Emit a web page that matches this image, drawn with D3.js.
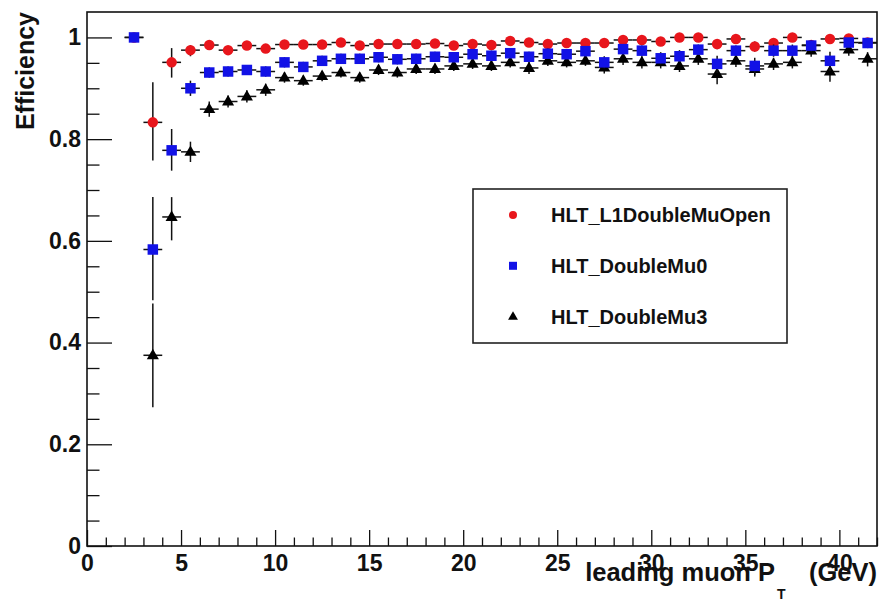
<!DOCTYPE html>
<html><head><meta charset="utf-8">
<script src="https://cdn.jsdelivr.net/npm/d3@7"></script>
<style>
body{margin:0;background:#fff}
svg{display:block}
text{font-family:"Liberation Sans",Arial,Helvetica,sans-serif;font-weight:bold;fill:#111}
</style>
</head><body>
<svg id="c" width="879" height="604"></svg>
<script>
// ---- data ----
const ptBins = [2.5,3.5,4.5,5.5,6.5,7.5,8.5,9.5,10.5,11.5,12.5,13.5,14.5,15.5,16.5,17.5,18.5,19.5,20.5,21.5,
                22.5,23.5,24.5,25.5,26.5,27.5,28.5,29.5,30.5,31.5,32.5,33.5,34.5,35.5,36.5,37.5,38.5,39.5,40.5,41.5];
const binHalfWidth = 0.5;
const seriesNames = ["HLT_L1DoubleMuOpen","HLT_DoubleMu0","HLT_DoubleMu3"];
const effL1Open = [1.0,0.833,0.951,0.975,0.985,0.975,0.984,0.978,0.986,0.986,0.986,0.990,0.984,0.987,0.987,0.987,0.988,0.984,0.987,0.985,
                   0.993,0.990,0.987,0.989,0.989,0.989,0.995,0.995,0.992,1.0,1.0,0.987,0.997,0.982,0.989,1.0,0.985,0.997,0.998,0.990];
const errLoL1Open = [0.005,0.075,0.030,0.012,0.008,0.008,0.008,0.008,0.008,0.008,0.008,0.008,0.008,0.008,0.008,0.008,0.008,0.008,0.008,0.008,
                     0.008,0.008,0.008,0.008,0.008,0.008,0.008,0.008,0.008,0.008,0.008,0.010,0.008,0.010,0.008,0.008,0.010,0.008,0.008,0.010];
const errHiL1Open = [0.0,0.079,0.028,0.010,0.008,0.008,0.008,0.008,0.008,0.008,0.008,0.006,0.008,0.008,0.008,0.008,0.008,0.008,0.008,0.008,
                     0.006,0.006,0.008,0.008,0.008,0.008,0.005,0.005,0.006,0.0,0.0,0.008,0.003,0.010,0.008,0.0,0.010,0.003,0.002,0.008];
const effMu0 = [1.0,0.583,0.778,0.900,0.931,0.933,0.936,0.933,0.951,0.942,0.954,0.958,0.958,0.961,0.957,0.958,0.962,0.961,0.967,0.964,
                0.969,0.962,0.968,0.967,0.973,0.951,0.977,0.974,0.959,0.963,0.976,0.948,0.974,0.944,0.974,0.974,0.984,0.954,0.990,0.989];
const errLoMu0 = [0.005,0.100,0.040,0.015,0.010,0.010,0.010,0.010,0.010,0.010,0.010,0.010,0.010,0.010,0.010,0.010,0.010,0.010,0.010,0.010,
                  0.010,0.010,0.010,0.010,0.010,0.012,0.010,0.010,0.012,0.012,0.010,0.018,0.010,0.018,0.012,0.012,0.012,0.020,0.010,0.010];
const errHiMu0 = [0.0,0.103,0.042,0.015,0.010,0.010,0.010,0.010,0.010,0.010,0.010,0.010,0.010,0.010,0.010,0.010,0.010,0.010,0.010,0.010,
                  0.010,0.010,0.010,0.010,0.010,0.012,0.010,0.010,0.012,0.012,0.010,0.016,0.010,0.016,0.012,0.012,0.010,0.018,0.008,0.008];
const effMu3 = [null,0.375,0.647,0.775,0.859,0.874,0.884,0.897,0.921,0.915,0.924,0.931,0.921,0.936,0.931,0.938,0.938,0.944,0.948,0.944,
                0.951,0.940,0.954,0.951,0.954,0.941,0.958,0.951,0.951,0.944,0.958,0.928,0.954,0.938,0.948,0.951,0.974,0.933,0.976,0.958];
const errLoMu3 = [0,0.102,0.046,0.020,0.015,0.012,0.012,0.012,0.010,0.010,0.010,0.010,0.010,0.010,0.010,0.010,0.010,0.010,0.010,0.010,
                  0.010,0.012,0.010,0.010,0.010,0.012,0.012,0.012,0.012,0.012,0.012,0.020,0.012,0.015,0.012,0.012,0.012,0.020,0.012,0.015];
const errHiMu3 = [0,0.102,0.039,0.020,0.015,0.012,0.012,0.012,0.010,0.010,0.010,0.010,0.010,0.010,0.010,0.010,0.010,0.010,0.010,0.010,
                  0.010,0.012,0.010,0.010,0.010,0.012,0.012,0.012,0.012,0.012,0.012,0.018,0.012,0.015,0.012,0.012,0.012,0.018,0.010,0.013];
const xMajorTicks = [0,5,10,15,20,25,30,35,40];
const yMajorTicks = [0,0.2,0.4,0.6,0.8,1.0];
const xTitle = "leading muon P";
const xTitleSub = "T";
const xTitleUnit = "(GeV)";
const yTitle = "Efficiency";

// ---- layout ----
const svg = d3.select("#c");
const L = 87, R = 877, T = 12, B = 546;
const x = d3.scaleLinear().domain([0, 42]).range([L, R]);
const y = d3.scaleLinear().domain([0, 1.05]).range([B, T]);

svg.append("rect").attr("width",879).attr("height",604).attr("fill","#fff");

// axes
const xMinor = d3.range(0, 43, 1).filter(v => v % 5 !== 0);
const yMinor = d3.range(0, 21, 1).map(i => +(i*0.05).toFixed(2)).filter(v => Math.round(v*100) % 20 !== 0);

function styleAxis(g){
  g.select(".domain").remove();
  g.selectAll(".tick line").attr("stroke","#111").attr("stroke-width",1.3);
  g.selectAll(".tick text").attr("fill","#111").style("font-size","23px")
   .style("font-family",'"Liberation Sans",Arial,sans-serif').style("font-weight","bold");
}
svg.append("g").attr("transform",`translate(0,${B})`)
  .call(d3.axisBottom(x).tickValues(xMajorTicks).tickSize(-16).tickPadding(9).tickFormat(d3.format("d")))
  .call(styleAxis);
svg.append("g").attr("transform",`translate(0,${B})`)
  .call(d3.axisBottom(x).tickValues(xMinor).tickSize(-8.5).tickFormat(""))
  .call(styleAxis);
svg.append("g").attr("transform",`translate(${L},0)`)
  .call(d3.axisLeft(y).tickValues(yMajorTicks).tickSize(-25).tickPadding(6).tickFormat(d3.format("~g")))
  .call(styleAxis);
svg.append("g").attr("transform",`translate(${L},0)`)
  .call(d3.axisLeft(y).tickValues(yMinor).tickSize(-12.5).tickFormat(""))
  .call(styleAxis);

// frame
svg.append("rect").attr("x",L).attr("y",T).attr("width",R-L).attr("height",B-T)
  .attr("fill","none").attr("stroke","#111").attr("stroke-width",1.6);

// titles
svg.append("text").attr("transform",`translate(34,${T}) rotate(-90)`)
  .attr("text-anchor","end").style("font-size","25px").text(yTitle);
svg.append("text").attr("x",R).attr("y",581).attr("text-anchor","end").style("font-size","25.5px").text(xTitleUnit);
svg.append("text").attr("x",775).attr("y",581).attr("text-anchor","end").style("font-size","25.5px").text(xTitle);
svg.append("text").attr("x",777).attr("y",599).attr("text-anchor","start").style("font-size","14px").text(xTitleSub);

// series
const series = [
  {name: seriesNames[0], eff: effL1Open, lo: errLoL1Open, hi: errHiL1Open, color: "#e8161c", shape: "circle"},
  {name: seriesNames[2], eff: effMu3, lo: errLoMu3, hi: errHiMu3, color: "#000000", shape: "triangle"},
  {name: seriesNames[1], eff: effMu0, lo: errLoMu0, hi: errHiMu0, color: "#1212e6", shape: "square"}
];
function markerPath(shape, s){
  if (shape === "circle") return d3.symbol(d3.symbolCircle, Math.PI*s*s/4)();
  if (shape === "square") return d3.symbol(d3.symbolSquare, s*s)();
  const h = s*0.95, w = s*1.1;
  return `M0,${-h*0.62}L${w/2},${h*0.38}L${-w/2},${h*0.38}Z`;
}
const plot = svg.append("g");
series.forEach(sr => {
  const pts = ptBins.map((p,i) => ({p, v: sr.eff[i], lo: sr.lo[i], hi: sr.hi[i]})).filter(d => d.v !== null);
  const g = plot.append("g");
  g.selectAll("line.h").data(pts).join("line")
    .attr("x1", d => x(d.p - binHalfWidth)).attr("x2", d => x(d.p + binHalfWidth))
    .attr("y1", d => y(d.v)).attr("y2", d => y(d.v))
    .attr("stroke","#111").attr("stroke-width",1.5);
  g.selectAll("line.v").data(pts).join("line")
    .attr("x1", d => x(d.p)).attr("x2", d => x(d.p))
    .attr("y1", d => y(d.v - d.lo)).attr("y2", d => y(d.v + d.hi))
    .attr("stroke","#111").attr("stroke-width",1.5);
  g.selectAll("path").data(pts).join("path")
    .attr("transform", d => `translate(${x(d.p)},${y(d.v)})`)
    .attr("d", markerPath(sr.shape, sr.shape === "triangle" ? 11 : 10.5))
    .attr("fill", sr.color);
});

// legend
const lg = svg.append("g");
lg.append("rect").attr("x",473).attr("y",189).attr("width",314).attr("height",154)
  .attr("fill","#fff").attr("stroke","#222").attr("stroke-width",1.6);
const legendOrder = [series[0], series[2], series[1]];
legendOrder.forEach((sr,i) => {
  const cy = 215 + i*50.8;
  lg.append("path").attr("transform",`translate(513,${cy})`)
    .attr("d", markerPath(sr.shape, sr.shape === "triangle" ? 9 : 8)).attr("fill", sr.color);
  lg.append("text").attr("x",551).attr("y",cy+7).style("font-size","20px").text(sr.name);
});
</script>
</body></html>
